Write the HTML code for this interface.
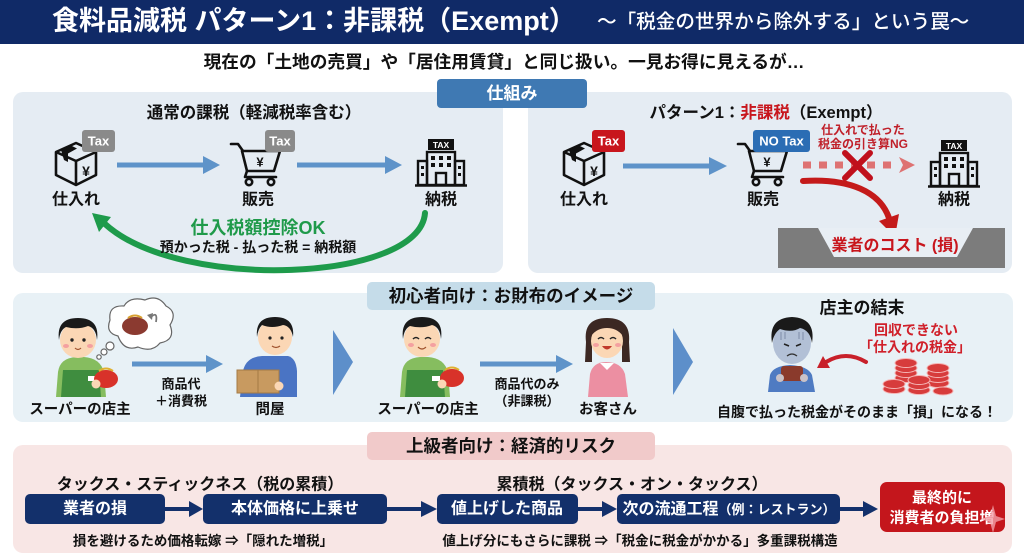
<!DOCTYPE html>
<html><head><meta charset="utf-8">
<style>
html,body{margin:0;padding:0;background:#fff;}
svg{display:block;font-family:"Liberation Sans","Noto Sans CJK JP",sans-serif;}
text{dominant-baseline:central;}
</style></head>
<body>
<svg width="1024" height="559" viewBox="0 0 1024 559" xmlns="http://www.w3.org/2000/svg">
<defs>
  <g id="boxico">
    <g fill="none" stroke="#111" stroke-width="2.6" stroke-linejoin="round">
      <polygon points="4,14 24,5 44,14 44,37 24,47 4,37"/>
      <polyline points="4,14 24,23 44,14"/>
      <line x1="24" y1="23" x2="24" y2="47"/>
    </g>
    <polygon points="9,12 19,7.5 25,10.5 16,15.5 16,24 12,22" fill="#111"/>
    <text x="34" y="33" font-size="14" font-weight="bold" text-anchor="middle" fill="#111">¥</text>
  </g>
  <g id="cartico">
    <g fill="none" stroke="#111" stroke-width="2.6" stroke-linejoin="round" stroke-linecap="round">
      <polyline points="1,3 8,3 13,10"/>
      <polygon points="12,10 50,10 44,30 17,30"/>
      <polyline points="17,30 15,36 46,36"/>
      <circle cx="19" cy="41" r="3.2"/>
      <circle cx="41" cy="41" r="3.2"/>
    </g>
    <text x="30" y="21" font-size="13" font-weight="bold" text-anchor="middle" fill="#111">¥</text>
  </g>
  <g id="bldico">
    <rect x="13" y="0" width="26" height="11" fill="#111"/>
    <text x="26" y="5.8" font-size="8.5" font-weight="bold" fill="#fff" text-anchor="middle">TAX</text>
    <g fill="none" stroke="#111" stroke-width="2.4">
      <rect x="12" y="13" width="28" height="33"/>
      <rect x="3" y="22" width="9" height="24"/>
      <rect x="40" y="22" width="9" height="24"/>
      <rect x="21" y="34" width="10" height="12"/>
      <line x1="0" y1="46.5" x2="52" y2="46.5"/>
    </g>
    <g fill="#111">
      <rect x="16" y="17" width="4" height="4"/><rect x="24" y="17" width="4" height="4"/><rect x="32" y="17" width="4" height="4"/>
      <rect x="16" y="24" width="4" height="4"/><rect x="24" y="24" width="4" height="4"/><rect x="32" y="24" width="4" height="4"/>
      <rect x="6" y="27" width="3" height="3"/><rect x="6" y="34" width="3" height="3"/>
      <rect x="43" y="27" width="3" height="3"/><rect x="43" y="34" width="3" height="3"/>
    </g>
  </g>
</defs>

<!-- Header -->
<rect x="0" y="0" width="1024" height="44" fill="#102a67"/>
<text x="52" y="21" font-size="27" font-weight="bold" fill="#fff">食料品減税 パターン1：非課税（Exempt）</text>
<text x="597" y="22" font-size="19.6" font-weight="500" fill="#fff">～「税金の世界から除外する」という罠～</text>

<text x="504" y="62" font-size="17.7" font-weight="bold" fill="#111" text-anchor="middle">現在の「土地の売買」や「居住用賃貸」と同じ扱い。一見お得に見えるが…</text>

<!-- Top panels -->
<rect x="13" y="92" width="490" height="181" rx="10" fill="#e5ecf3"/>
<rect x="528" y="92" width="484" height="181" rx="10" fill="#e5ecf3"/>
<rect x="437" y="79" width="150" height="29" rx="4" fill="#3f79b3"/>
<text x="512" y="93.5" font-size="17" font-weight="bold" fill="#fff" text-anchor="middle">仕組み</text>

<!-- TL -->
<text x="254" y="113" font-size="16.5" font-weight="bold" fill="#111" text-anchor="middle">通常の課税（軽減税率含む）</text>
<use href="#boxico" x="52" y="138"/>
<rect x="82" y="130" width="33" height="22" rx="3" fill="#8a8a8a"/>
<text x="98.5" y="141" font-size="13" font-weight="bold" fill="#fff" text-anchor="middle">Tax</text>
<use href="#cartico" x="230" y="141"/>
<rect x="265" y="130" width="30" height="22" rx="3" fill="#8a8a8a"/>
<text x="280" y="141" font-size="13" font-weight="bold" fill="#fff" text-anchor="middle">Tax</text>
<use href="#bldico" x="415" y="139"/>
<text x="76" y="200" font-size="16" font-weight="bold" fill="#111" text-anchor="middle">仕入れ</text>
<text x="258" y="200" font-size="16" font-weight="bold" fill="#111" text-anchor="middle">販売</text>
<text x="441" y="200" font-size="16" font-weight="bold" fill="#111" text-anchor="middle">納税</text>
<g fill="#5e93c9" stroke="none">
  <rect x="117" y="162.5" width="88" height="5"/>
  <polygon points="203,156 220,165 203,174"/>
  <rect x="297" y="162.5" width="90" height="5"/>
  <polygon points="385,156 402,165 385,174"/>
</g>
<path d="M425,213 C420,282 180,292 105,224" fill="none" stroke="#1e9b4b" stroke-width="6" stroke-linecap="round"/>
<polygon points="92,213 111,217 99,232" fill="#1e9b4b"/>
<text x="258" y="228" font-size="18" font-weight="bold" fill="#1f9a4a" text-anchor="middle">仕入税額控除OK</text>
<text x="258" y="247" font-size="14" font-weight="bold" fill="#111" text-anchor="middle">預かった税 - 払った税 = 納税額</text>

<!-- TR -->
<text x="766" y="113" font-size="16.5" font-weight="bold" fill="#111" text-anchor="middle">パターン1：<tspan fill="#c8161d">非課税</tspan>（Exempt）</text>
<use href="#boxico" x="560" y="138"/>
<rect x="592" y="130" width="33" height="22" rx="3" fill="#c8161d"/>
<text x="608.5" y="141" font-size="13" font-weight="bold" fill="#fff" text-anchor="middle">Tax</text>
<use href="#cartico" x="737" y="141"/>
<rect x="753" y="130" width="57" height="22" rx="3" fill="#2b6db4"/>
<text x="781.5" y="141" font-size="13" font-weight="bold" fill="#fff" text-anchor="middle">NO Tax</text>
<use href="#bldico" x="928" y="140"/>
<text x="584" y="200" font-size="16" font-weight="bold" fill="#111" text-anchor="middle">仕入れ</text>
<text x="763" y="200" font-size="16" font-weight="bold" fill="#111" text-anchor="middle">販売</text>
<text x="954" y="200" font-size="16" font-weight="bold" fill="#111" text-anchor="middle">納税</text>
<rect x="623" y="163.5" width="88" height="5" fill="#5e93c9"/>
<polygon points="709,157 727,166 709,175" fill="#5e93c9"/>
<text x="863" y="130" font-size="12" font-weight="bold" fill="#c0202a" text-anchor="middle">仕入れで払った</text>
<text x="863" y="144" font-size="12" font-weight="bold" fill="#c0202a" text-anchor="middle">税金の引き算NG</text>
<line x1="803" y1="165" x2="898" y2="165" stroke="#de7272" stroke-width="7" stroke-dasharray="8 8"/>
<polygon points="899,157 915,165 899,173 903,165" fill="#de7272"/>
<g stroke="#c0101c" stroke-width="6" stroke-linecap="round">
  <line x1="845" y1="153" x2="870" y2="178"/>
  <line x1="870" y1="153" x2="845" y2="178"/>
</g>
<path d="M803,181 C850,178 880,192 889,218" fill="none" stroke="#c41a1a" stroke-width="6" stroke-linecap="round"/>
<polygon points="899,214 879,221 895,237" fill="#c41a1a"/>
<rect x="778" y="228" width="227" height="40" fill="#7c7c7c"/>
<polygon points="818,228 973,228 957,257 834,257" fill="#e8eef4"/>
<text x="895" y="246" font-size="16" font-weight="bold" fill="#c8161d" text-anchor="middle">業者のコスト (損)</text>

<!-- Middle panel -->
<rect x="13" y="293" width="1000" height="129" rx="10" fill="#e8f1f6"/>
<rect x="367" y="282" width="288" height="28" rx="5" fill="#c5dce9"/>
<text x="511" y="296" font-size="17.5" font-weight="bold" fill="#111" text-anchor="middle">初心者向け：お財布のイメージ</text>

<!-- Shopkeeper 1 -->
<path d="M56,397 L58,372 Q60,358 76,357 L84,357 Q100,358 104,372 L106,397 Z" fill="#86bd5f"/>
<path d="M63,370 L99,370 L101,397 L61,397 Z" fill="#3f8d3f"/>
<rect x="88" y="376" width="8" height="5" fill="#fff"/>
<ellipse cx="78" cy="340" rx="18" ry="18" fill="#fbd7b5"/>
<path d="M59,340 Q56,318 78,318 Q100,318 97,340 Q96,328 88,326 Q78,330 66,327 Q60,330 59,340Z" fill="#1a1a1a"/>
<circle cx="72" cy="340" r="1.7" fill="#222"/><circle cx="84" cy="340" r="1.7" fill="#222"/>
<ellipse cx="66" cy="346" rx="3" ry="2" fill="#f4a0a0"/><ellipse cx="90" cy="346" rx="3" ry="2" fill="#f4a0a0"/>
<path d="M75,348 Q78,351 81,348" stroke="#a0522d" stroke-width="1.2" fill="none"/>
<ellipse cx="106" cy="379" rx="12" ry="9" fill="#d8322a"/>
<path d="M99,371 Q106,366 113,371" stroke="#e0b030" fill="none" stroke-width="2"/>
<circle cx="96" cy="384" r="4.5" fill="#fbd7b5"/>
<!-- thought bubble -->
<g fill="#fff" stroke="#666" stroke-width="1.2">
  <path d="M118,336 Q105,333 110,320 Q108,305 124,306 Q130,296 145,300 Q158,294 166,306 Q178,312 170,325 Q176,340 160,343 Q152,353 138,347 Q124,352 118,336 Z"/>
  <circle cx="110" cy="346" r="4"/><circle cx="104" cy="352" r="3"/><circle cx="99" cy="357" r="2.2"/>
</g>
<ellipse cx="135" cy="326" rx="13" ry="9" fill="#8b3a30"/>
<path d="M128,318 Q135,313 142,318" stroke="#d8a030" fill="none" stroke-width="2"/>
<path d="M150,318 Q158,310 156,322" stroke="#777" fill="none" stroke-width="1.8"/>
<polygon points="147,315 152,320 153,313" fill="#777"/>
<!-- arrow 1 -->
<rect x="132" y="361.5" width="76" height="5" fill="#5e93c9"/>
<polygon points="206,355 223,364 206,373" fill="#5e93c9"/>
<text x="181" y="384" font-size="13" font-weight="bold" fill="#111" text-anchor="middle">商品代</text>
<text x="181" y="401" font-size="13" font-weight="bold" fill="#111" text-anchor="middle">＋消費税</text>
<!-- Wholesaler -->
<path d="M240,397 L243,371 Q246,357 262,356 L288,356 Q296,358 297,371 L297,397 Z" fill="#4a74c4"/>
<ellipse cx="275" cy="337" rx="17" ry="18" fill="#fbd7b5"/>
<path d="M257,337 Q255,317 275,317 Q295,317 293,337 Q291,326 283,325 Q272,329 262,325 Q258,329 257,337Z" fill="#1a1a1a"/>
<circle cx="270" cy="338" r="1.6" fill="#222"/><circle cx="282" cy="338" r="1.6" fill="#222"/>
<path d="M272,346 Q276,349 280,346" stroke="#a0522d" stroke-width="1.2" fill="none"/>
<rect x="237" y="370" width="42" height="23" fill="#c89a60" stroke="#a57a45" stroke-width="1"/>
<line x1="258" y1="370" x2="258" y2="393" stroke="#a57a45" stroke-width="1"/>
<circle cx="279" cy="386" r="4.5" fill="#fbd7b5"/>
<text x="270" y="410" font-size="14.5" font-weight="bold" fill="#111" text-anchor="middle">問屋</text>
<text x="80" y="410" font-size="14.5" font-weight="bold" fill="#111" text-anchor="middle">スーパーの店主</text>
<!-- chevron 1 -->
<polygon points="333,330 353,362 333,395" fill="#5d8fca"/>

<!-- Shopkeeper 2 -->
<path d="M400,397 L402,372 Q404,358 420,357 L428,357 Q444,358 448,372 L450,397 Z" fill="#86bd5f"/>
<path d="M407,370 L443,370 L445,397 L405,397 Z" fill="#3f8d3f"/>
<rect x="432" y="376" width="8" height="5" fill="#fff"/>
<ellipse cx="422" cy="339" rx="18" ry="18" fill="#fbd7b5"/>
<path d="M403,339 Q400,317 422,317 Q444,317 441,339 Q440,327 432,325 Q422,329 410,326 Q404,329 403,339Z" fill="#1a1a1a"/>
<path d="M413,339 Q416,336 419,339 M425,339 Q428,336 431,339" stroke="#222" stroke-width="1.5" fill="none"/>
<path d="M418,347 Q422,351 426,347" stroke="#a0522d" stroke-width="1.2" fill="none"/>
<ellipse cx="411" cy="345" rx="3" ry="2" fill="#f4a0a0"/><ellipse cx="433" cy="345" rx="3" ry="2" fill="#f4a0a0"/>
<ellipse cx="452" cy="378" rx="12" ry="9" fill="#d8322a"/>
<path d="M445,370 Q452,365 459,370" stroke="#e0b030" fill="none" stroke-width="2"/>
<circle cx="442" cy="384" r="4.5" fill="#fbd7b5"/>
<text x="428" y="410" font-size="14.5" font-weight="bold" fill="#111" text-anchor="middle">スーパーの店主</text>
<!-- arrow 2 -->
<rect x="480" y="361.5" width="77" height="5" fill="#5e93c9"/>
<polygon points="556,355 573,364 556,373" fill="#5e93c9"/>
<text x="527" y="384" font-size="13" font-weight="bold" fill="#111" text-anchor="middle">商品代のみ</text>
<text x="527" y="401" font-size="13" font-weight="bold" fill="#111" text-anchor="middle">（非課税）</text>
<!-- Customer -->
<path d="M588,397 L590,374 Q593,362 606,362 Q621,362 625,374 L628,397 Z" fill="#ec8fa2"/>
<path d="M600,363 L607,370 L614,363 Z" fill="#fff"/>
<path d="M586,342 Q583,318 607,318 Q631,318 629,342 L630,362 L622,362 L622,344 L592,344 L592,362 L585,362 Z" fill="#3c2823"/>
<ellipse cx="607" cy="341" rx="16" ry="17" fill="#fbd7b5"/>
<path d="M591,336 Q595,320 607,321 Q620,320 623,336 Q617,328 607,328 Q597,328 591,336Z" fill="#3c2823"/>
<path d="M598,339 Q601,336 604,339 M610,339 Q613,336 616,339" stroke="#222" stroke-width="1.5" fill="none"/>
<path d="M602,346 Q607,353 612,346 Z" fill="#c0392b"/>
<ellipse cx="596" cy="345" rx="3" ry="2" fill="#f4a0a0"/><ellipse cx="618" cy="345" rx="3" ry="2" fill="#f4a0a0"/>
<text x="608" y="410" font-size="14.5" font-weight="bold" fill="#111" text-anchor="middle">お客さん</text>
<!-- chevron 2 -->
<polygon points="673,328 693,362 673,395" fill="#5d8fca"/>

<!-- Result -->
<text x="862" y="308" font-size="17" font-weight="bold" fill="#111" text-anchor="middle">店主の結末</text>
<path d="M768,392 L770,375 Q773,366 790,365 Q808,366 812,375 L815,392 Z" fill="#4f7bc2"/>
<ellipse cx="792" cy="343" rx="19" ry="21" fill="#b2c0d6"/>
<path d="M772,343 Q768,318 792,317 Q816,318 812,343 Q810,330 800,328 Q792,333 780,329 Q774,333 772,343Z" fill="#1a1a1a"/>
<path d="M784,344 L789,346 M796,346 L801,344" stroke="#222" stroke-width="1.6"/>
<path d="M787,356 Q792,352 797,356" stroke="#333" stroke-width="1.3" fill="none"/>
<path d="M781,332 L781,340 M785,332 L785,339 M799,332 L799,339 M803,332 L803,340" stroke="#7d8ba8" stroke-width="1"/>
<rect x="781" y="366" width="22" height="15" rx="3" fill="#8a3a2c"/>
<circle cx="780" cy="378" r="4" fill="#c9c2c8"/><circle cx="804" cy="378" r="4" fill="#c9c2c8"/>
<text x="916" y="330" font-size="14" font-weight="bold" fill="#d0202a" text-anchor="middle">回収できない</text>
<text x="915" y="347" font-size="14" font-weight="bold" fill="#d0202a" text-anchor="middle">「仕入れの税金」</text>
<path d="M866,362 Q846,350 826,362" fill="none" stroke="#c8202a" stroke-width="4" stroke-linecap="round"/>
<polygon points="817,368 830,368 823,356" fill="#c8202a"/>
<g fill="#d73c3c" stroke="#f5b5b5" stroke-width="1">
  <ellipse cx="906" cy="378" rx="11" ry="4.5"/><ellipse cx="906" cy="373" rx="11" ry="4.5"/><ellipse cx="906" cy="368" rx="11" ry="4.5"/><ellipse cx="906" cy="363" rx="11" ry="4.5"/>
  <ellipse cx="938" cy="383" rx="11" ry="4.5"/><ellipse cx="938" cy="378" rx="11" ry="4.5"/><ellipse cx="938" cy="373" rx="11" ry="4.5"/><ellipse cx="938" cy="368" rx="11" ry="4.5"/>
  <ellipse cx="894" cy="389" rx="11" ry="4.5"/><ellipse cx="894" cy="384" rx="11" ry="4.5"/>
  <ellipse cx="919" cy="390" rx="11" ry="4.5"/><ellipse cx="919" cy="385" rx="11" ry="4.5"/><ellipse cx="919" cy="380" rx="11" ry="4.5"/>
  <ellipse cx="943" cy="391" rx="10" ry="4"/>
</g>
<text x="857" y="412" font-size="14" font-weight="bold" fill="#111" text-anchor="middle">自腹で払った税金がそのまま「損」になる！</text>

<!-- Bottom panel -->
<rect x="13" y="445" width="999" height="108" rx="10" fill="#f8e6e5"/>
<rect x="367" y="432" width="288" height="28" rx="5" fill="#f1caca"/>
<text x="511" y="446" font-size="17.5" font-weight="bold" fill="#111" text-anchor="middle">上級者向け：経済的リスク</text>
<text x="200" y="485" font-size="16" font-weight="bold" fill="#111" text-anchor="middle">タックス・スティックネス（税の累積）</text>
<text x="632" y="485" font-size="16" font-weight="bold" fill="#111" text-anchor="middle">累積税（タックス・オン・タックス）</text>
<g fill="#13306b">
  <rect x="25" y="494" width="140" height="30" rx="5"/>
  <rect x="203" y="494" width="184" height="30" rx="5"/>
  <rect x="437" y="494" width="141" height="30" rx="5"/>
  <rect x="617" y="494" width="223" height="30" rx="5"/>
  <rect x="165" y="507" width="26" height="4"/><polygon points="189,501 203,509 189,517"/>
  <rect x="387" y="507" width="36" height="4"/><polygon points="421,501 437,509 421,517"/>
  <rect x="578" y="507" width="26" height="4"/><polygon points="602,501 617,509 602,517"/>
  <rect x="840" y="507" width="25" height="4"/><polygon points="863,501 878,509 863,517"/>
</g>
<text x="95" y="509" font-size="16" font-weight="bold" fill="#fff" text-anchor="middle">業者の損</text>
<text x="295" y="509" font-size="16" font-weight="bold" fill="#fff" text-anchor="middle">本体価格に上乗せ</text>
<text x="507" y="509" font-size="16" font-weight="bold" fill="#fff" text-anchor="middle">値上げした商品</text>
<text x="729" y="509" font-weight="bold" fill="#fff" text-anchor="middle"><tspan font-size="16">次の流通工程</tspan><tspan font-size="13">（例：レストラン）</tspan></text>
<rect x="880" y="482" width="125" height="50" rx="7" fill="#c4161c"/>
<text x="942" y="498" font-size="15" font-weight="bold" fill="#fff" text-anchor="middle">最終的に</text>
<text x="942" y="518" font-size="15" font-weight="bold" fill="#fff" text-anchor="middle">消費者の負担増</text>
<polygon points="993,505 996,516 1005,519 996,522 993,533 990,522 981,519 990,516" fill="#f2a0a8" opacity="0.8"/>
<text x="203" y="541" font-size="13.5" font-weight="bold" fill="#111" text-anchor="middle">損を避けるため価格転嫁 ⇒「隠れた増税」</text>
<text x="640" y="541" font-size="13.5" font-weight="bold" fill="#111" text-anchor="middle">値上げ分にもさらに課税 ⇒「税金に税金がかかる」多重課税構造</text>
</svg>
</body></html>
